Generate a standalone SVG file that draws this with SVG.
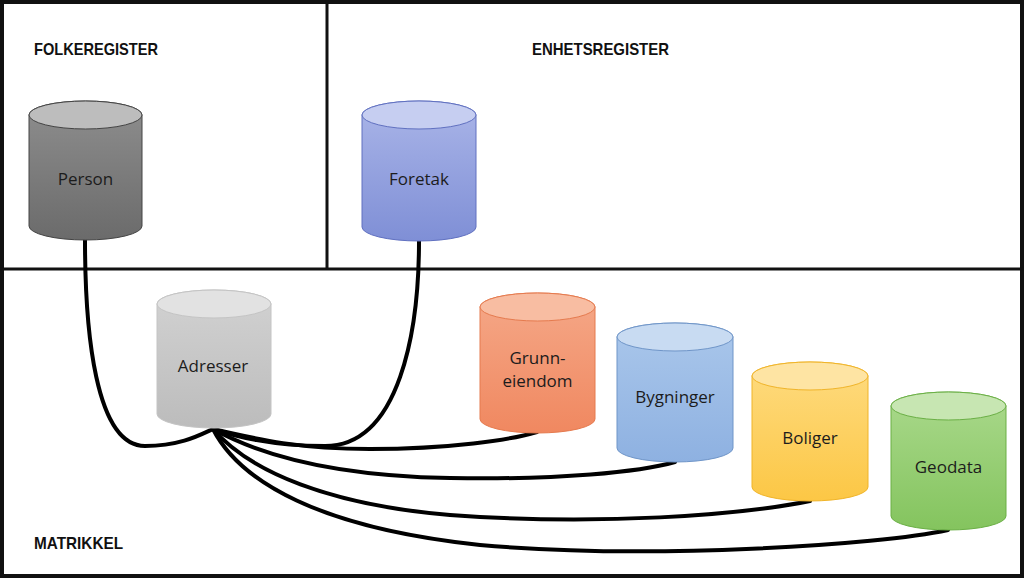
<svg xmlns="http://www.w3.org/2000/svg" width="1024" height="578" viewBox="0 0 1024 578">
<style>
.frame{fill:none;stroke:#111;stroke-width:4}
.div{stroke:#111;stroke-width:3}
.head{font-family:"Liberation Sans",Arial,sans-serif;font-weight:bold;font-size:17px;fill:#111}
.lbl{font-family:"Open Sans","Liberation Sans",sans-serif;font-size:17px;fill:#1c1c1c;text-anchor:middle}
.conn path{fill:none;stroke:#000;stroke-width:4;stroke-linecap:round}
.cap{stroke-width:1}
.body{stroke-width:1}
</style>
<defs>
<linearGradient id="gPerson" x1="0" y1="0" x2="0" y2="1"><stop offset="0" stop-color="#8e8e8e"/><stop offset="1" stop-color="#6b6b6b"/></linearGradient>
<linearGradient id="gForetak" x1="0" y1="0" x2="0" y2="1"><stop offset="0" stop-color="#aab5e8"/><stop offset="1" stop-color="#7f8fd6"/></linearGradient>
<linearGradient id="gAdr" x1="0" y1="0" x2="0" y2="1"><stop offset="0" stop-color="#d2d2d2"/><stop offset="1" stop-color="#bcbcbc"/></linearGradient>
<linearGradient id="gGrunn" x1="0" y1="0" x2="0" y2="1"><stop offset="0" stop-color="#f5a888"/><stop offset="1" stop-color="#f08860"/></linearGradient>
<linearGradient id="gByg" x1="0" y1="0" x2="0" y2="1"><stop offset="0" stop-color="#aac7eb"/><stop offset="1" stop-color="#8eb1e1"/></linearGradient>
<linearGradient id="gBol" x1="0" y1="0" x2="0" y2="1"><stop offset="0" stop-color="#fedb80"/><stop offset="1" stop-color="#fcc745"/></linearGradient>
<linearGradient id="gGeo" x1="0" y1="0" x2="0" y2="1"><stop offset="0" stop-color="#aad98c"/><stop offset="1" stop-color="#84c45e"/></linearGradient>
</defs>
<rect width="1024" height="578" fill="#fff"/>
<g id="frame">
<rect class="frame" x="2" y="2" width="1020" height="574"/>
<line class="div" x1="0" y1="269" x2="1024" y2="269"/>
<line class="div" x1="327" y1="0" x2="327" y2="269"/>
<text class="head" x="34" y="55" textLength="124" lengthAdjust="spacingAndGlyphs">FOLKEREGISTER</text>
<text class="head" x="532" y="55" textLength="137" lengthAdjust="spacingAndGlyphs">ENHETSREGISTER</text>
<text class="head" x="34" y="549" textLength="89" lengthAdjust="spacingAndGlyphs">MATRIKKEL</text>
</g>
<g class="conn" id="connectors">
<path d="M85,240 C85,330 95,446 145,446 C180,446 200,435 213,429"/>
<path d="M419,241 C419,330 400,446 325,446 C270,446 235,436 213,429"/>
<path d="M213,429 C260,440 300,449 370,449 C450,449 510,440 537,432"/>
<path d="M213,429 C260,455 330,476 450,478 C560,480 640,472 675,462"/>
<path d="M213,429 C250,472 330,505 450,515 C600,526 740,515 810,501"/>
<path d="M213,429 C240,482 320,528 480,545 C650,560 880,545 948,530"/>
</g>
<g id="person">
<path class="body" d="M29,115 L29,226 A56.5,14 0 0 0 142,226 L142,115 A56.5,14 0 0 0 29,115 Z" fill="url(#gPerson)" stroke="#444"/>
<ellipse class="cap" cx="85.5" cy="115" rx="56.5" ry="14" fill="#bdbdbd" stroke="#444"/>
<text class="lbl" x="85.5" y="185">Person</text>
</g>
<g id="foretak">
<path class="body" d="M362,115 L362,227 A57,14 0 0 0 476,227 L476,115 A57,14 0 0 0 362,115 Z" fill="url(#gForetak)" stroke="#6070c0"/>
<ellipse class="cap" cx="419" cy="115" rx="57" ry="14" fill="#c6cef1" stroke="#6070c0"/>
<text class="lbl" x="419" y="185">Foretak</text>
</g>
<g id="adresser">
<path class="body" d="M157,304 L157,414 A57,14 0 0 0 271,414 L271,304 A57,14 0 0 0 157,304 Z" fill="url(#gAdr)" stroke="#c4c4c4"/>
<ellipse class="cap" cx="214" cy="304" rx="57" ry="14" fill="#e2e2e2" stroke="#c4c4c4"/>
<text class="lbl" x="213" y="372">Adresser</text>
</g>
<g id="grunneiendom">
<path class="body" d="M480,307 L480,419 A57.5,14 0 0 0 595,419 L595,307 A57.5,14 0 0 0 480,307 Z" fill="url(#gGrunn)" stroke="#e57a4e"/>
<ellipse class="cap" cx="537.5" cy="307" rx="57.5" ry="14" fill="#f8bda2" stroke="#e57a4e"/>
<text class="lbl" x="537.5" y="364">Grunn-</text>
<text class="lbl" x="537.5" y="387">eiendom</text>
</g>
<g id="bygninger">
<path class="body" d="M617,337 L617,448 A58,14 0 0 0 733,448 L733,337 A58,14 0 0 0 617,337 Z" fill="url(#gByg)" stroke="#6f95c8"/>
<ellipse class="cap" cx="675" cy="337" rx="58" ry="14" fill="#c8dbf2" stroke="#6f95c8"/>
<text class="lbl" x="675" y="403">Bygninger</text>
</g>
<g id="boliger">
<path class="body" d="M752,376 L752,487 A58,14 0 0 0 868,487 L868,376 A58,14 0 0 0 752,376 Z" fill="url(#gBol)" stroke="#f0b429"/>
<ellipse class="cap" cx="810" cy="376" rx="58" ry="14" fill="#fee4a3" stroke="#f0b429"/>
<text class="lbl" x="810" y="444">Boliger</text>
</g>
<g id="geodata">
<path class="body" d="M891,406 L891,516 A57.5,14 0 0 0 1006,516 L1006,406 A57.5,14 0 0 0 891,406 Z" fill="url(#gGeo)" stroke="#6aaf45"/>
<ellipse class="cap" cx="948.5" cy="406" rx="57.5" ry="14" fill="#c7e6b2" stroke="#6aaf45"/>
<text class="lbl" x="948.5" y="473">Geodata</text>
</g>
</svg>
